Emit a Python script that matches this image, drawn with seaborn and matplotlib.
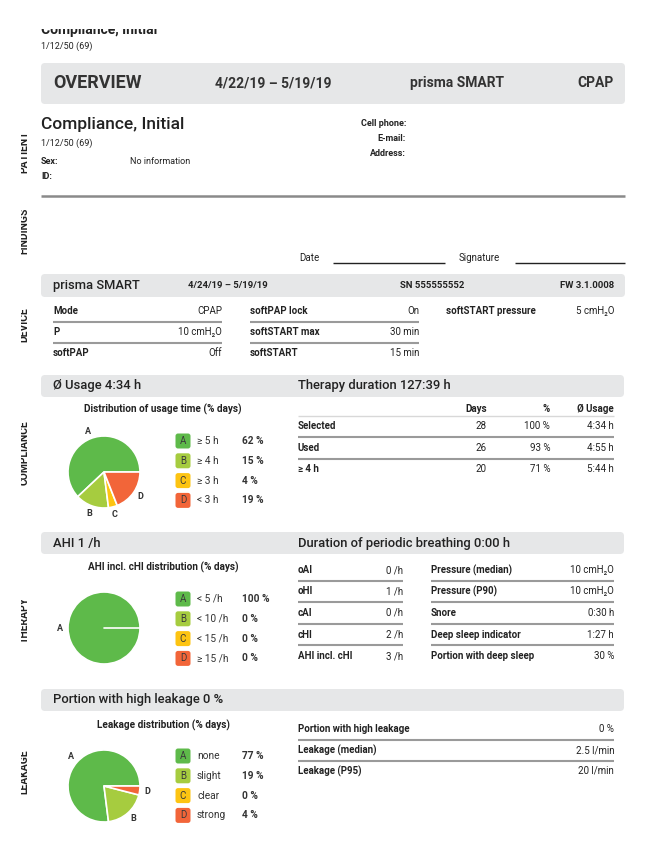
import matplotlib
matplotlib.use("Agg")
import matplotlib.pyplot as plt
from matplotlib.patches import FancyBboxPatch, Rectangle
import seaborn as sns

# ---- data ----
pie_cats = ['A', 'B', 'C', 'D']
pie_colors = ['#5eba4a', '#a6cc3f', '#fdc412', '#f26539']

usage_labels = ['≥ 5 h', '≥ 4 h', '≥ 3 h', '< 3 h']
usage_pct = [62, 15, 4, 19]

ahi_labels = ['< 5 /h', '< 10 /h', '< 15 /h', '≥ 15 /h']
ahi_pct = [100, 0, 0, 0]

leak_labels = ['none', 'slight', 'clear', 'strong']
leak_pct = [77, 19, 0, 4]

therapy_rows = ['Selected', 'Used', '≥ 4 h']
therapy_days = [28, 26, 20]
therapy_share = [100, 93, 71]
therapy_usage = ['4:34 h', '4:55 h', '5:44 h']

device_col1 = ['Mode', 'P', 'softPAP']
device_val1 = ['CPAP', '10 cmH₂O', 'Off']
device_col2 = ['softPAP lock', 'softSTART max', 'softSTART']
device_val2 = ['On', '30 min', '15 min']
device_col3 = ['softSTART pressure']
device_val3 = ['5 cmH₂O']

resp_labels = ['oAI', 'oHI', 'cAI', 'cHI', 'AHI incl. cHI']
resp_values = ['0 /h', '1 /h', '0 /h', '2 /h', '3 /h']
press_labels = ['Pressure (median)', 'Pressure (P90)', 'Snore', 'Deep sleep indicator', 'Portion with deep sleep']
press_values = ['10 cmH₂O', '10 cmH₂O', '0:30 h', '1:27 h', '30 %']

leak_tab_labels = ['Portion with high leakage', 'Leakage (median)', 'Leakage (P95)']
leak_tab_values = ['0 %', '2.5 l/min', '20 l/min']

side_labels = ['PATIENT', 'FINDINGS', 'DEVICE', 'COMPLIANCE', 'THERAPY', 'LEAKAGE']

# ---- style ----
sns.set_style('white')
plt.rcParams['font.family'] = ['Roboto', 'DejaVu Sans']
pal = sns.color_palette(pie_colors)

W, H = 651, 849
DARK = '#222222'
BAR = '#e6e7e8'
RULE = '#9a9a9a'
TS = 7  # table text size

fig = plt.figure(figsize=(W / 100, H / 100), dpi=100)
page = fig.add_axes([0, 0, 1, 1])
page.set_xlim(0, W)
page.set_ylim(H, 0)
page.axis('off')


def txt(x, y, s, size=TS, weight='normal', ha='left', color=DARK, **kw):
    page.text(x, y, s, fontsize=size, fontweight=weight, ha=ha, va='center', color=color, **kw)


def bar(y0, y1, x0=41, x1=624):
    page.add_patch(FancyBboxPatch((x0, y0), x1 - x0, y1 - y0,
                                  boxstyle='round,pad=0,rounding_size=4', fc=BAR, ec='none'))


def rule(x0, x1, y, color=RULE, lw=1.5):
    page.plot([x0, x1], [y, y], color=color, lw=lw, solid_capstyle='butt')


def kv_table(x0, x1, y0, step, labels, values):
    for i, (lab, val) in enumerate(zip(labels, values)):
        y = y0 + i * step
        txt(x0, y, lab, weight='bold')
        txt(x1, y, val, ha='right')
        if i < len(labels) - 1:
            rule(x0, x1, y + step / 2)


def draw_pie(cx, cy, pcts, r=36):
    s = 1.6
    size = 2 * r * s
    ax = fig.add_axes([(cx - r * s) / W, 1 - (cy + r * s) / H, size / W, size / H])
    keep = [i for i, p in enumerate(pcts) if p > 0]
    wedges, texts = ax.pie([pcts[i] for i in keep], labels=[pie_cats[i] for i in keep],
                           colors=[pal[i] for i in keep], startangle=0, counterclock=True,
                           labeldistance=1.22,
                           wedgeprops=dict(edgecolor='white', linewidth=1.2),
                           textprops=dict(fontsize=6.5, color='#333333', fontweight='bold'))
    for t in texts:
        t.set_ha('center')
        t.set_va('center')
    if len(keep) == 1:
        ax.plot([0, 1], [0, 0], color='white', lw=1.2)
    ax.set_xlim(-s, s)
    ax.set_ylim(-s, s)
    ax.axis('off')


def draw_legend(y0, labels, pcts, step=19.8):
    for i, (lab, p) in enumerate(zip(labels, pcts)):
        y = y0 + i * step
        page.add_patch(FancyBboxPatch((175.5, y - 7.5), 15, 15,
                                      boxstyle='round,pad=0,rounding_size=2.5', fc=pal[i], ec='none'))
        txt(183, y, pie_cats[i], size=7, color='#3a3a3a', ha='center')
        txt(197, y, lab, size=7.3, color='#333333')
        txt(242, y, f'{p} %', size=7.3, weight='bold', color='#333333')


# ---- header ----
page.text(41, 34, 'Compliance, Initial', fontsize=10, fontweight='bold', va='baseline', color=DARK)
txt(41, 46, '1/12/50 (69)', size=6.5)

bar(63, 104, x1=625)
txt(53, 83, 'OVERVIEW', size=13, weight='bold', color='#333333')
txt(215, 83, '4/22/19 – 5/19/19', size=10, weight='bold', color='#333333')
txt(410, 83, 'prisma SMART', size=10, weight='bold', color='#333333')
txt(614, 83, 'CPAP', size=10, weight='bold', color='#333333', ha='right')

# patient
txt(41, 124, 'Compliance, Initial', size=12.5, weight='medium')
txt(41, 143, '1/12/50 (69)', size=6.5)
txt(41, 161, 'Sex:', size=6.5, weight='bold')
txt(130, 161, 'No information', size=6.5)
txt(41, 176, 'ID:', size=6.5, weight='bold')
for lab, y in zip(['Cell phone:', 'E-mail:', 'Address:'], [123, 138, 153]):
    txt(406, y, lab, size=6.5, weight='bold', ha='right')
rule(41, 625, 196, color='#8a8a8a', lw=1.8)

# findings
txt(320, 258, 'Date', size=7, ha='right')
rule(333, 445, 263, color='#222222', lw=1)
txt(459, 258, 'Signature', size=7)
rule(515, 625, 263, color='#222222', lw=1)

# device
bar(274, 297, x1=625)
txt(53, 285, 'prisma SMART', size=9.3, weight='medium')
txt(188, 285, '4/24/19 – 5/19/19', size=6.8, weight='bold')
txt(400, 285, 'SN 555555552', size=6.8, weight='bold')
txt(614, 285, 'FW 3.1.0008', size=6.8, weight='bold', ha='right')
kv_table(53, 222, 311, 21, device_col1, device_val1)
kv_table(250, 419, 311, 21, device_col2, device_val2)
kv_table(446, 614, 311, 21, device_col3, device_val3)

# compliance
bar(375, 397)
txt(53, 385, 'Ø Usage 4:34 h', size=9.4, weight='medium')
txt(298, 385, 'Therapy duration 127:39 h', size=9.4, weight='medium')
txt(163, 409, 'Distribution of usage time (% days)', size=7.2, weight='bold', ha='center')
draw_pie(104, 472, usage_pct)
draw_legend(441, usage_labels, usage_pct)

txt(487, 409, 'Days', weight='bold', ha='right')
txt(550, 409, '%', weight='bold', ha='right')
txt(614, 409, 'Ø Usage', weight='bold', ha='right')
rule(298, 614, 416, color='#d8d8d8', lw=1)
for i, row in enumerate(therapy_rows):
    y = 426 + i * 21.5
    txt(298, y, row, weight='bold')
    txt(487, y, str(therapy_days[i]), ha='right')
    txt(550, y, f'{therapy_share[i]} %', ha='right')
    txt(614, y, therapy_usage[i], ha='right')
    if i < len(therapy_rows) - 1:
        rule(298, 614, y + 11)

# therapy
bar(532, 554)
txt(53, 543, 'AHI 1 /h', size=9.4, weight='medium')
txt(298, 543, 'Duration of periodic breathing 0:00 h', size=9.4, weight='medium')
txt(163, 567, 'AHI incl. cHI distribution (% days)', size=7.2, weight='bold', ha='center')
draw_pie(104, 628, ahi_pct)
draw_legend(599, ahi_labels, ahi_pct)
kv_table(298, 403, 570, 21.5, resp_labels, resp_values)
kv_table(431, 614, 570, 21.5, press_labels, press_values)

# leakage
bar(689, 711)
txt(53, 700, 'Portion with high leakage 0 %', size=9.4, weight='medium')
txt(163, 725, 'Leakage distribution (% days)', size=7.2, weight='bold', ha='center')
draw_pie(104, 786, leak_pct)
draw_legend(756, leak_labels, leak_pct)
kv_table(298, 614, 729, 21, leak_tab_labels, leak_tab_values)

# side labels, cut off at the page edge
for lab, yc in zip(side_labels, [152, 231, 325, 453, 620, 772]):
    page.text(24.5, yc, lab, rotation=90, fontsize=7.5, fontweight='bold', ha='center', va='center', color=DARK)
page.add_patch(Rectangle((0, 0), 20.5, H, fc='white', ec='none', zorder=10))
page.add_patch(Rectangle((0, 0), W, 28.5, fc='white', ec='none', zorder=10))

fig.savefig('out.png', dpi=100)
